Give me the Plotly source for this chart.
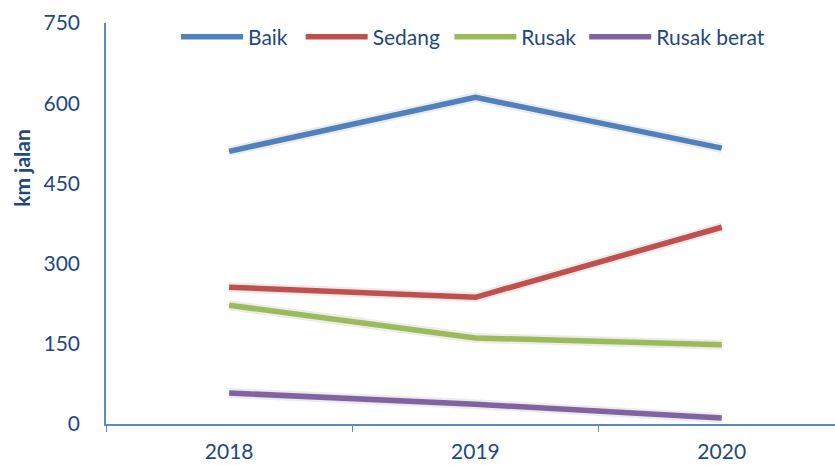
import plotly.graph_objects as go

years = ["2018", "2019", "2020"]
baik = [510, 611, 516]
sedang = [256, 237, 368]
rusak = [222, 161, 148]
rusak_berat = [58, 37, 11]
series_names = ["Baik", "Sedang", "Rusak", "Rusak berat"]
series_colors = ["#4F81BD", "#C0504D", "#9BBB59", "#8064A2"]
y_ticks = [0, 150, 300, 450, 600, 750]

FONT = "Lato, Open Sans, sans-serif"
TXT = "#1F497D"
AXC = "#5B8AC6"

legend_ids = ["legend", "legend2", "legend3", "legend4"]
legend_x = [0.096, 0.267, 0.471, 0.656]

fig = go.Figure()
for vals in [baik, sedang, rusak, rusak_berat]:
    # soft shadow
    fig.add_trace(go.Scatter(x=years, y=vals, mode="lines", showlegend=False,
                             hoverinfo="skip",
                             line=dict(color="rgba(0,0,0,0.08)", width=10)))
for name, vals, col, lg in zip(series_names, [baik, sedang, rusak, rusak_berat],
                               series_colors, legend_ids):
    fig.add_trace(go.Scatter(x=years, y=vals, mode="lines", name=name, legend=lg,
                             line=dict(color=col, width=5.5)))

legend_style = dict(orientation="h", xanchor="left", y=0.965, yanchor="middle",
                    font=dict(family=FONT, size=21, color=TXT),
                    itemwidth=62, bgcolor="rgba(0,0,0,0)")
layout_legends = {lg: dict(x=lx, **legend_style) for lg, lx in zip(legend_ids, legend_x)}

fig.update_layout(
    width=835, height=465,
    margin=dict(l=106, r=0, t=23, b=41),
    plot_bgcolor="white", paper_bgcolor="white",
    font=dict(family=FONT, color=TXT, size=20),
    showlegend=True,
    xaxis=dict(type="category", range=[-0.5, 2.46], showline=True, linecolor=AXC,
               linewidth=1.5, ticks="outside", tickson="boundaries", ticklen=6,
               tickcolor=AXC, showgrid=False, zeroline=False, ticklabelstandoff=8,
               tickfont=dict(family=FONT, size=21, color=TXT)),
    yaxis=dict(range=[0, 750], tickvals=y_ticks, showline=True, linecolor=AXC,
               linewidth=1.5, showgrid=False, zeroline=False, ticks="",
               ticklabelstandoff=20,
               tickfont=dict(family=FONT, size=21, color=TXT)),
    annotations=[dict(text="<b>km jalan</b>", textangle=-90, xref="paper", yref="paper",
                      x=-0.116, xanchor="center", y=0.64, yanchor="middle", showarrow=False,
                      font=dict(family=FONT, size=21, color=TXT))],
    **layout_legends,
)
fig.write_html("out.html", config={"displayModeBar": False},
               post_script="document.body.style.margin='0';document.body.style.overflow='hidden';")
